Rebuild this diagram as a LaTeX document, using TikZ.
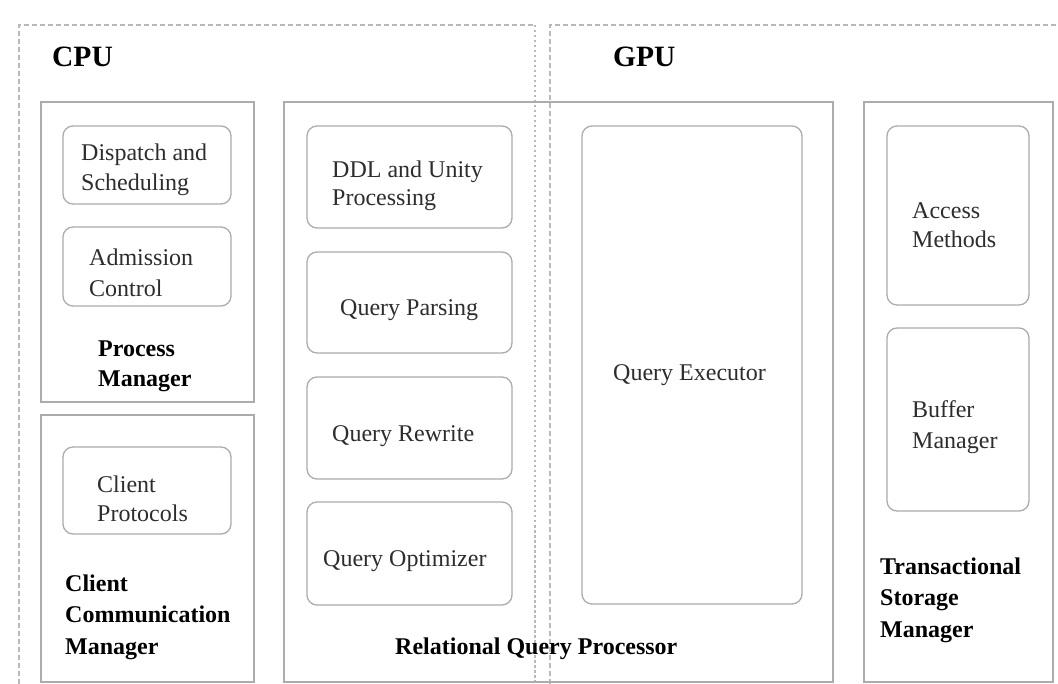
\documentclass[tikz,border=0pt]{standalone}
\usepackage{fontspec}
\setmainfont{Liberation Serif}
\definecolor{boxgray}{RGB}{172,172,172}
\definecolor{dashgray}{RGB}{185,185,185}
\definecolor{txt}{RGB}{45,45,45}
\begin{document}
\begin{tikzpicture}[x=1pt,y=-1pt,
  box/.style={draw=boxgray, line width=1.3pt, minimum width=#1},
  rbox/.style={draw=boxgray, line width=1.3pt, rounded corners=10pt, minimum width=#1},
  lbl/.style={anchor=west, inner sep=0pt, align=left, text=txt, font=\fontsize{24}{30}\selectfont},
  blbl/.style={anchor=west, inner sep=0pt, align=left, text=black, font=\fontsize{24}{32}\selectfont\bfseries},
  hlbl/.style={anchor=west, inner sep=0pt, text=black, font=\fontsize{29.5}{34}\selectfont\bfseries},
  dashA/.style={draw=dashgray, line width=1.2pt, dash pattern=on 5pt off 3pt},
  dashB/.style={draw=dashgray, line width=1.1pt, dash pattern=on 2.5pt off 2.5pt}
]
\useasboundingbox[fill=white] (0,0) rectangle (1058,684);

% dashed processor regions
\coordinate (cpuBL) at (19,684);
\coordinate (cpuTL) at (19,25);
\coordinate (cpuTR) at (535,25);
\coordinate (cpuBR) at (535,684);
\coordinate (gpuBL) at (550,684);
\coordinate (gpuTL) at (550,25);
\coordinate (gpuTR) at (1058,25);
\draw[dashA] (cpuBL) -- (cpuTL) -- (cpuTR);
\draw[dashB] (cpuTR) -- (cpuBR);
\draw[dashA] (gpuBL) -- (gpuTL) -- (gpuTR);
\node[hlbl] (cpu) at (52,57) {CPU};
\node[hlbl] (gpu) at (613,57) {GPU};

% outer boxes
\node[box=213pt, minimum height=300pt] (pm)  at (147.5,252) {};
\node[box=213pt, minimum height=267pt] (ccm) at (147.5,548.5) {};
\node[box=549pt, minimum height=580pt] (rqp) at (558.5,392) {};
\node[box=189pt, minimum height=580pt] (tsm) at (958.5,392) {};

% inner rounded boxes
\node[rbox=168pt, minimum height=78pt]  (disp)  at (147,165) {};
\node[rbox=168pt, minimum height=79pt]  (adm)   at (147,266.5) {};
\node[rbox=168pt, minimum height=87pt]  (cprot) at (147,490.5) {};
\node[rbox=205pt, minimum height=102pt] (ddl)   at (409.5,177) {};
\node[rbox=205pt, minimum height=101pt] (parse) at (409.5,302.5) {};
\node[rbox=205pt, minimum height=102pt] (rewr)  at (409.5,428) {};
\node[rbox=205pt, minimum height=103pt] (opt)   at (409.5,553.5) {};
\node[rbox=220pt, minimum height=478pt] (exec)  at (692,365) {};
\node[rbox=142pt, minimum height=179pt] (acc)   at (958,215.5) {};
\node[rbox=142pt, minimum height=183pt] (buf)   at (958,419.5) {};

% labels
\node[lbl] (tdisp) at (81,170) {Dispatch and\\Scheduling};
\node[lbl, font=\fontsize{24}{31}\selectfont] (tadm) at (89,272.5) {Admission\\Control};
\node[blbl, font=\fontsize{24}{30}\selectfont\bfseries] (tpm) at (98,366) {Process\\Manager};
\node[lbl, font=\fontsize{24}{29}\selectfont] (tcprot) at (97,498.5) {Client\\Protocols};
\node[blbl, font=\fontsize{24}{31.5}\selectfont\bfseries] (tccm) at (65,617) {Client\\Communication\\Manager};
\node[lbl, font=\fontsize{24}{28}\selectfont] (tddl) at (332,186) {DDL and Unity\\Processing};
\node[lbl] (tparse) at (340,310) {Query Parsing};
\node[lbl] (trewr) at (332,436) {Query Rewrite};
\node[lbl] (topt) at (323,561) {Query Optimizer};
\node[lbl] (texec) at (613,375) {Query Executor};
\node[blbl] (trqp) at (395,649) {Relational Query Processor};
\node[lbl, font=\fontsize{24}{29}\selectfont] (tacc) at (912,225.5) {Access\\Methods};
\node[lbl, font=\fontsize{24}{31}\selectfont] (tbuf) at (912,427.5) {Buffer\\Manager};
\node[blbl, font=\fontsize{24}{31.5}\selectfont\bfseries] (ttsm) at (880,600) {Transactional\\Storage\\Manager};
\end{tikzpicture}
\end{document}
